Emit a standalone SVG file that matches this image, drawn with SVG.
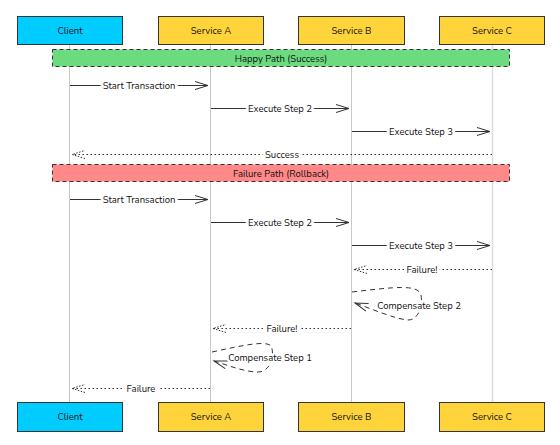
<svg xmlns="http://www.w3.org/2000/svg" width="560" height="445" viewBox="0 0 560 445">
<style>
text{font-family:"Nunito","Noto Sans","Open Sans",sans-serif;font-size:9.5px;fill:#111;text-anchor:middle;dominant-baseline:central}
.lbl{paint-order:stroke;stroke:#fff;stroke-width:6px;stroke-linejoin:round}
.box{stroke:#333;stroke-width:1}
.client{fill:#00CCFF}
.svc{fill:#FFD43B}
.life{stroke:#c8c8c8;stroke-width:1}
.msg{stroke:#333;stroke-width:1;fill:none}
.ret{stroke:#333;stroke-width:1;fill:none;stroke-dasharray:1.5 2.5}
.self{stroke:#333;stroke-width:1;fill:none;stroke-dasharray:5 4}
.band{stroke:#333;stroke-width:1;stroke-dasharray:4 3}
</style>
<defs>
<marker id="open" markerWidth="16" markerHeight="10" refX="14" refY="5" orient="auto" markerUnits="userSpaceOnUse">
<path d="M1,1 L14,5 L1,9" fill="none" stroke="#333" stroke-width="1"/>
</marker>
<marker id="openDot" markerWidth="16" markerHeight="10" refX="14" refY="5" orient="auto" markerUnits="userSpaceOnUse">
<path d="M1,1 L14,5 L1,9" fill="none" stroke="#333" stroke-width="1" stroke-dasharray="1.5 1.5"/>
</marker>
<marker id="openDash" markerWidth="16" markerHeight="10" refX="14" refY="5" orient="auto" markerUnits="userSpaceOnUse">
<path d="M1,1 L14,5 L1,9" fill="none" stroke="#333" stroke-width="1"/>
</marker>
</defs>
<rect width="560" height="445" fill="#fff"/>
<g id="lifelines">
<line class="life" x1="69.5" y1="44" x2="69.5" y2="402"/>
<line class="life" x1="210.5" y1="44" x2="210.5" y2="402"/>
<line class="life" x1="351.5" y1="44" x2="351.5" y2="402"/>
<line class="life" x1="492.5" y1="44" x2="492.5" y2="402" style="stroke:#ddd;stroke-width:1.5"/>
</g>
<g id="band-happy">
<rect class="band" x="52.5" y="49.5" width="457" height="17" fill="#6CDB80"/>
<text x="281" y="58">Happy Path (Success)</text>
</g>
<g id="band-failure">
<rect class="band" x="52.5" y="164.5" width="457" height="17" fill="#FF8888"/>
<text x="281" y="173">Failure Path (Rollback)</text>
</g>
<g id="connectors">
<line class="msg" x1="70" y1="85.5" x2="208" y2="85.5" marker-end="url(#open)"/>
<text class="lbl" x="139" y="85">Start Transaction</text>
<line class="msg" x1="211" y1="108.5" x2="349" y2="108.5" marker-end="url(#open)"/>
<text class="lbl" x="280" y="108">Execute Step 2</text>
<line class="msg" x1="352" y1="131.5" x2="490" y2="131.5" marker-end="url(#open)"/>
<text class="lbl" x="421" y="131">Execute Step 3</text>
<line class="ret" x1="492" y1="154.5" x2="72" y2="154.5" marker-end="url(#openDot)"/>
<text class="lbl" x="282" y="154">Success</text>

<line class="msg" x1="70" y1="199.5" x2="208" y2="199.5" marker-end="url(#open)"/>
<text class="lbl" x="139" y="199">Start Transaction</text>
<line class="msg" x1="211" y1="222.5" x2="349" y2="222.5" marker-end="url(#open)"/>
<text class="lbl" x="280" y="222">Execute Step 2</text>
<line class="msg" x1="352" y1="245.5" x2="490" y2="245.5" marker-end="url(#open)"/>
<text class="lbl" x="421" y="245">Execute Step 3</text>
<line class="ret" x1="492" y1="269.5" x2="354" y2="269.5" marker-end="url(#openDot)"/>
<text class="lbl" x="422" y="269">Failure!</text>

<path class="self" d="M352,292 C395,287 418,284 421,295 C423,307 418,320 408,320 C395,319 372,309 355,303" marker-end="url(#openDash)"/>
<text class="lbl" x="419" y="305" style="stroke-width:4px">Compensate Step 2</text>

<line class="ret" x1="351" y1="328.5" x2="213" y2="328.5" marker-end="url(#openDot)"/>
<text class="lbl" x="282" y="328">Failure!</text>

<path class="self" d="M212,352 C240,346 266,340 271,346 C275,354 271,372 258,372 C245,372 230,366 214,361" marker-end="url(#openDash)"/>
<text class="lbl" x="270" y="357" style="stroke-width:4px">Compensate Step 1</text>

<line class="ret" x1="210" y1="388.5" x2="72" y2="388.5" marker-end="url(#openDot)"/>
<text class="lbl" x="141" y="388">Failure</text>
</g>
<g id="client-top"><rect class="box client" x="17.5" y="16.5" width="105" height="28"/><text x="70" y="30.5">Client</text></g>
<g id="serviceA-top"><rect class="box svc" x="158.5" y="16.5" width="105" height="28"/><text x="211" y="30.5">Service A</text></g>
<g id="serviceB-top"><rect class="box svc" x="298.5" y="16.5" width="106" height="28"/><text x="351.5" y="30.5">Service B</text></g>
<g id="serviceC-top"><rect class="box svc" x="439.5" y="16.5" width="105" height="28"/><text x="492" y="30.5">Service C</text></g>
<g id="client-bottom"><rect class="box client" x="17.5" y="402.5" width="105" height="29"/><text x="70" y="416.5">Client</text></g>
<g id="serviceA-bottom"><rect class="box svc" x="158.5" y="402.5" width="105" height="29"/><text x="211" y="416.5">Service A</text></g>
<g id="serviceB-bottom"><rect class="box svc" x="298.5" y="402.5" width="106" height="29"/><text x="351.5" y="416.5">Service B</text></g>
<g id="serviceC-bottom"><rect class="box svc" x="439.5" y="402.5" width="105" height="29"/><text x="492" y="416.5">Service C</text></g>
</svg>
